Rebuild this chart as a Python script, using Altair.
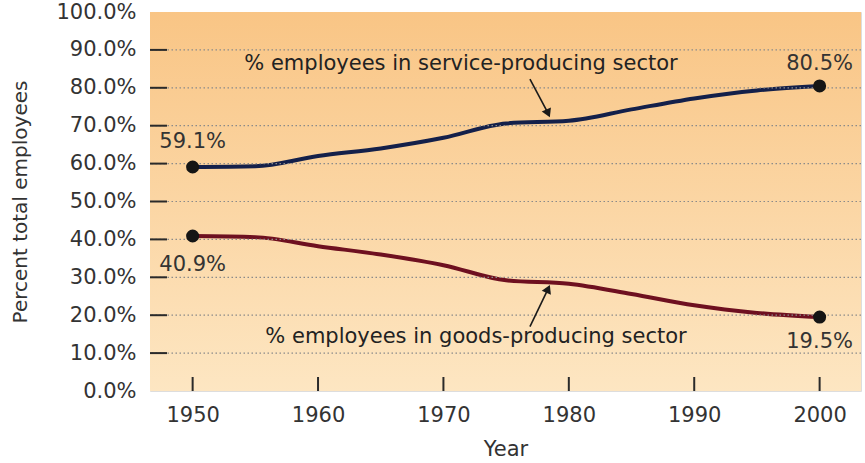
import altair as alt
import pandas as pd

years = [1950, 1955, 1960, 1965, 1970, 1975, 1980, 1985, 1990, 1995, 2000]
service = [59.1, 59.3, 62.0, 64.0, 66.8, 70.6, 71.3, 74.3, 77.2, 79.3, 80.5]
goods = [40.9, 40.6, 38.2, 36.0, 33.2, 29.2, 28.3, 25.6, 22.6, 20.6, 19.5]
y_ticks = [0, 10, 20, 30, 40, 50, 60, 70, 80, 90, 100]
x_ticks = [1950, 1960, 1970, 1980, 1990, 2000]

end_years = [1950, 2000, 1950, 2000]
end_values = [59.1, 80.5, 40.9, 19.5]
end_labels = ["59.1%", "80.5%", "40.9%", "19.5%"]
end_label_y = [65.8, 86.3, 33.3, 12.8]

notes = ["% employees in service-producing sector", "% employees in goods-producing sector"]
note_x = [1971.4, 1972.6]
note_y = [86.3, 14.3]

arrow_x1 = [1976.9, 1976.9]
arrow_y1 = [82.3, 17.0]
arrow_x2 = [1978.3, 1978.3]
arrow_y2 = [73.6, 26.6]
arrow_angle = [156, 24]

W, H = 711, 379
XD = [1946.6, 2003.3]
FONT = "DejaVu Sans"
TXT = "#333333"

xs = alt.Scale(domain=XD, nice=False, zero=False)
ys = alt.Scale(domain=[0, 100], nice=False)

xaxis = alt.Axis(values=x_ticks, format="d", ticks=False, grid=False, domain=False,
                 labelFontSize=21, labelPadding=13, labelColor=TXT, labelFont=FONT,
                 labelOverlap=False,
                 title="Year", titleFontSize=21, titleFontWeight="normal",
                 titleColor=TXT, titleFont=FONT, titlePadding=13)
yaxis = alt.Axis(values=y_ticks, labelExpr="format(datum.value, '.1f') + '%'",
                 ticks=False, grid=False, domain=False, labelOverlap=False,
                 labelFontSize=21, labelPadding=14, labelColor=TXT, labelFont=FONT,
                 title="Percent total employees", titleFontSize=20, titleFontWeight="normal",
                 titleColor=TXT, titleFont=FONT, titlePadding=25)

def X(f):
    return alt.X(f, scale=xs, axis=xaxis, title="Year")

def Y(f):
    return alt.Y(f, scale=ys, axis=yaxis, title="Percent total employees")

df = pd.DataFrame({"year": years * 2,
                   "value": service + goods,
                   "series": ["service"] * len(years) + ["goods"] * len(years)})
ends = pd.DataFrame({"year": end_years, "value": end_values, "label": end_labels, "ly": end_label_y})
nd = pd.DataFrame({"x": note_x, "y": note_y, "t": notes})
ar = pd.DataFrame({"x1": arrow_x1, "y1": arrow_y1, "x2": arrow_x2, "y2": arrow_y2, "ang": arrow_angle})

base = alt.Chart(df).mark_line(strokeWidth=4, interpolate="monotone").encode(
    x=X("year:Q"), y=Y("value:Q"),
    color=alt.Color("series:N", scale=alt.Scale(domain=["service", "goods"], range=["#14204a", "#6e1020"]),
                    legend=None),
    detail="series:N"
)

bg = alt.Chart(pd.DataFrame({"a": [0]})).mark_rect(
    color=alt.LinearGradient(gradient="linear", x1=0, x2=0, y1=0, y2=1,
                             stops=[alt.GradientStop(offset=0, color="#f9c585"),
                                    alt.GradientStop(offset=1, color="#fde6c2")])
).encode(x=alt.value(0), x2=alt.value(W), y=alt.value(0), y2=alt.value(H))

grid = alt.Chart(pd.DataFrame({"v": y_ticks[1:-1]})).mark_rule(
    color="#8a8a8a", strokeDash=[1.5, 2.5], strokeWidth=1.2
).encode(y=Y("v:Q"))

yt = alt.Chart(pd.DataFrame({"v": y_ticks[1:-1]})).mark_rule(color="#2a2a2a", strokeWidth=2).encode(
    y=Y("v:Q"), x=alt.value(0), x2=alt.value(17))
xt = alt.Chart(pd.DataFrame({"v": x_ticks})).mark_rule(color="#2a2a2a", strokeWidth=2).encode(
    x=X("v:Q"), y=alt.value(H), y2=alt.value(H - 14))

pts = alt.Chart(ends).mark_circle(size=170, color="#151515", opacity=1).encode(
    x=X("year:Q"), y=Y("value:Q"))
lbl = alt.Chart(ends).mark_text(fontSize=21, font=FONT, color=TXT).encode(
    x=X("year:Q"), y=Y("ly:Q"), text="label:N")
nt = alt.Chart(nd).mark_text(fontSize=21, font=FONT, color="#222222").encode(
    x=X("x:Q"), y=Y("y:Q"), text="t:N")
arl = alt.Chart(ar).mark_rule(color="#1a1a1a", strokeWidth=1.6).encode(
    x=X("x1:Q"), y=Y("y1:Q"), x2="x2:Q", y2="y2:Q")
arh = alt.Chart(ar).mark_point(shape="triangle", filled=True, size=100, color="#1a1a1a", opacity=1).encode(
    x=X("x2:Q"), y=Y("y2:Q"), angle=alt.Angle("ang:Q", scale=None))

chart = alt.layer(bg, base, grid, yt, xt, pts, lbl, nt, arl, arh).properties(
    width=W, height=H, autosize="none",
    padding={"left": 150, "top": 12, "right": 3, "bottom": 72}
).configure_view(stroke="#2a2a2a", strokeWidth=2.5).configure(background="white")

chart.save("out.html", embed_options={"renderer": "svg", "actions": False})
